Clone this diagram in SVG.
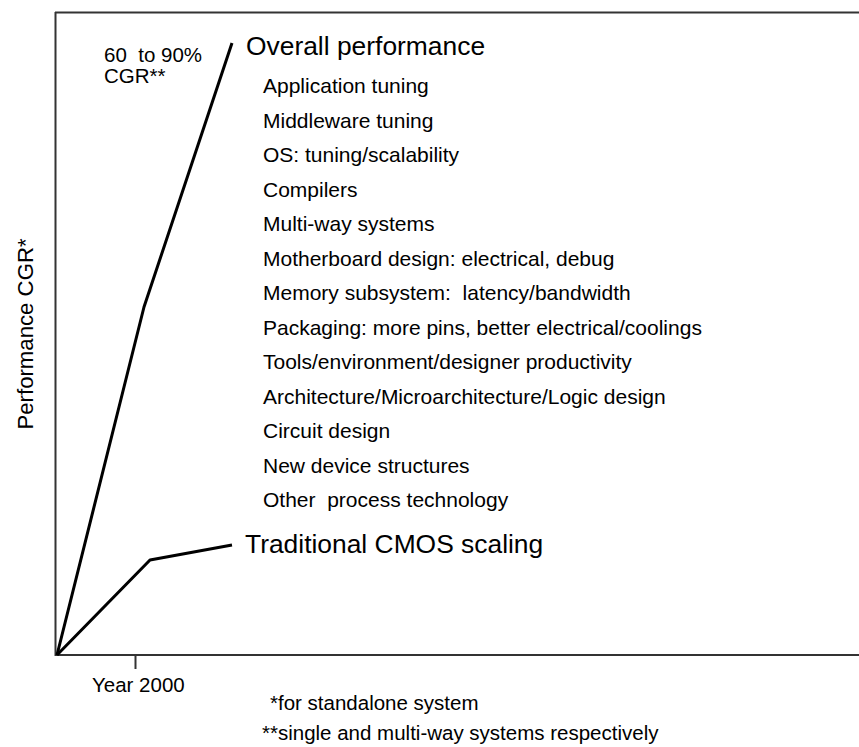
<svg xmlns="http://www.w3.org/2000/svg" width="859" height="747" viewBox="0 0 859 747">
  <style>
    text { font-family: "Liberation Sans", Arial, Helvetica, sans-serif; fill: #000; white-space: pre; }
    .big { font-size: 26.4px; }
    .item { font-size: 21px; }
    .small { font-size: 20.5px; }
    .ylabel { font-size: 22.2px; }
    .curve { fill: none; stroke: #000; stroke-width: 3; stroke-linejoin: round; stroke-linecap: butt; }
    .axis { fill: none; stroke: #333; stroke-width: 2; }
  </style>

  <rect width="859" height="747" fill="#fff"/>

  <!-- frame and axes -->
  <g id="axes">
    <line class="axis" x1="55" y1="12.5" x2="859" y2="12.5" stroke="#000"/>
    <line class="axis" x1="55.5" y1="12" x2="55.5" y2="656" stroke-width="1.5"/>
    <line class="axis" x1="55" y1="655" x2="859" y2="655"/>
    <line class="axis" x1="135.5" y1="655" x2="135.5" y2="669"/>
    <text class="small" x="92" y="692">Year 2000</text>
    <text class="ylabel" transform="translate(33,334) rotate(-90)" text-anchor="middle">Performance CGR*</text>
  </g>

  <!-- performance curves -->
  <g id="connectors">
    <polyline class="curve" points="57,655 144,307 232,43"/>
    <polyline class="curve" points="57,655 150,560 232,545"/>
  </g>

  <g id="cgr-label">
    <text class="small" x="104" y="62">60  to 90%</text>
    <text class="small" x="104" y="83">CGR**</text>
  </g>

  <g id="overall">
    <text class="big" x="246" y="55">Overall performance</text>
  </g>

  <g id="contributors">
    <text class="item" x="263" y="93">Application tuning</text>
    <text class="item" x="263" y="127.5">Middleware tuning</text>
    <text class="item" x="263" y="162">OS: tuning/scalability</text>
    <text class="item" x="263" y="196.5">Compilers</text>
    <text class="item" x="263" y="231">Multi-way systems</text>
    <text class="item" x="263" y="265.5">Motherboard design: electrical, debug</text>
    <text class="item" x="263" y="300">Memory subsystem:  latency/bandwidth</text>
    <text class="item" x="263" y="334.5">Packaging: more pins, better electrical/coolings</text>
    <text class="item" x="263" y="369">Tools/environment/designer productivity</text>
    <text class="item" x="263" y="403.5">Architecture/Microarchitecture/Logic design</text>
    <text class="item" x="263" y="438">Circuit design</text>
    <text class="item" x="263" y="472.5">New device structures</text>
    <text class="item" x="263" y="507">Other  process technology</text>
  </g>

  <g id="traditional">
    <text class="big" x="245" y="553">Traditional CMOS scaling</text>
  </g>

  <g id="footnotes">
    <text class="small" x="270" y="710">*for standalone system</text>
    <text class="small" x="262" y="740">**single and multi-way systems respectively</text>
  </g>
</svg>
